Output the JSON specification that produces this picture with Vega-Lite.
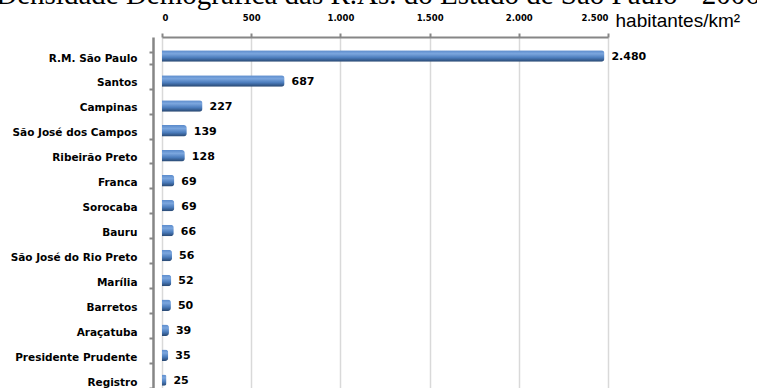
{
  "$schema": "https://vega.github.io/schema/vega-lite/v6.json",
  "width": 446,
  "height": 351,
  "autosize": {"type": "none"},
  "padding": {"left": 162, "top": 37, "right": 149, "bottom": 0},
  "background": "white",
  "title": {
    "text": "Densidade Demográfica das R.As. do Estado de São Paulo - 2006",
    "font": "Liberation Serif",
    "fontSize": 29,
    "fontWeight": "normal",
    "color": "black",
    "anchor": "middle",
    "frame": "group",
    "baseline": "alphabetic",
    "offset": 0,
    "dx": -7,
    "dy": 22
  },
  "config": {
    "locale": {"number": {"decimal": ",", "thousands": ".", "grouping": [3], "currency": ["R$", ""]}},
    "view": {"stroke": null}
  },
  "data": {
    "values": [
      {"ra": "R.M. São Paulo", "dens": 2480},
      {"ra": "Santos", "dens": 687},
      {"ra": "Campinas", "dens": 227},
      {"ra": "São José dos Campos", "dens": 139},
      {"ra": "Ribeirão Preto", "dens": 128},
      {"ra": "Franca", "dens": 69},
      {"ra": "Sorocaba", "dens": 69},
      {"ra": "Bauru", "dens": 66},
      {"ra": "São José do Rio Preto", "dens": 56},
      {"ra": "Marília", "dens": 52},
      {"ra": "Barretos", "dens": 50},
      {"ra": "Araçatuba", "dens": 39},
      {"ra": "Presidente Prudente", "dens": 35},
      {"ra": "Registro", "dens": 25}
    ]
  },
  "encoding": {
    "y": {
      "field": "ra",
      "type": "nominal",
      "sort": null,
      "scale": {"paddingInner": 0.54, "paddingOuter": 0.31, "align": 0.99},
      "axis": {
        "title": null,
        "offset": 9,
        "domainColor": "#868686",
        "domainWidth": 2.5,
        "tickColor": "#868686",
        "tickWidth": 2,
        "tickSize": 4,
        "tickBand": "extent",
        "labelPadding": 12,
        "labelFont": "DejaVu Sans",
        "labelFontWeight": "bold",
        "labelFontSize": 10.5,
        "labelColor": "black"
      }
    },
    "x": {
      "field": "dens",
      "type": "quantitative",
      "scale": {"domain": [0, 2500], "nice": false},
      "axis": {
        "orient": "top",
        "values": [0, 500, 1000, 1500, 2000, 2500],
        "format": ",d",
        "title": "habitantes/km²",
        "titleFont": "Liberation Sans",
        "titleFontSize": 19,
        "titleFontWeight": "normal",
        "titleColor": "black",
        "titleAngle": 0,
        "titleAlign": "left",
        "titleBaseline": "alphabetic",
        "titleX": 453,
        "titleY": -11,
        "domainColor": "#868686",
        "domainWidth": 2,
        "tickColor": "#868686",
        "tickWidth": 2,
        "tickSize": 4,
        "labelPadding": 13,
        "labelBaseline": "alphabetic",
        "labelFont": "DejaVu Sans",
        "labelFontWeight": "bold",
        "labelFontSize": 8.5,
        "labelColor": "black",
        "grid": true,
        "gridColor": "#d9d9d9",
        "gridWidth": 1.5
      }
    }
  },
  "layer": [
    {
      "mark": {
        "type": "bar",
        "yOffset": -2,
        "cornerRadiusEnd": 3,
        "color": {
          "gradient": "linear",
          "x1": 0, "y1": 0, "x2": 0, "y2": 1,
          "stops": [
            {"offset": 0, "color": "#5a8acb"},
            {"offset": 0.3, "color": "#7ba6de"},
            {"offset": 0.65, "color": "#4b7cbc"},
            {"offset": 1, "color": "#27466f"}
          ]
        }
      }
    },
    {
      "mark": {
        "type": "text",
        "align": "left",
        "baseline": "middle",
        "dx": 7,
        "yOffset": -1,
        "font": "DejaVu Sans",
        "fontWeight": "bold",
        "fontSize": 11,
        "color": "black"
      },
      "encoding": {
        "text": {"field": "dens", "type": "quantitative", "format": ",d"}
      }
    }
  ]
}
